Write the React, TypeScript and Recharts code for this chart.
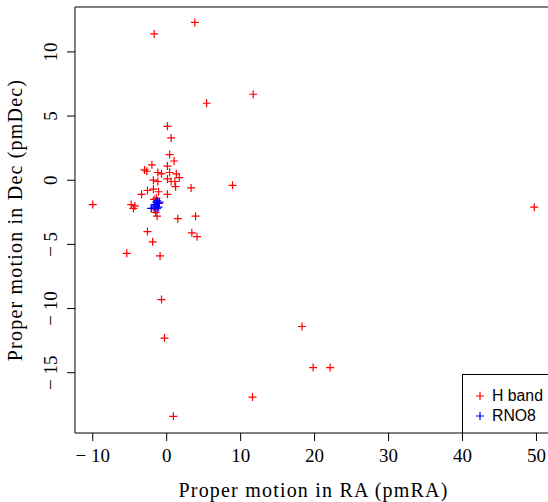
import React from "react";
import {
  ScatterChart,
  Scatter,
  XAxis,
  YAxis,
  ReferenceArea,
  Legend,
} from "recharts";

// H band proper motions (pmRA, pmDec)
const hBandX = [
  -1.7, 3.8, 11.7, 5.4, 0.1, 0.6, 0.4, 1.0, -2.0, 0.1, -3.0, -2.7, -1.2, -0.7,
  0.4, 1.3, 0.1, 1.7, -1.8, -1.2, 0.6, 1.1, 1.2, 3.3, 8.9, -1.8, -2.6, -1.1,
  -3.4, 0.1, -1.4, -1.7, -10.0, -4.8, -4.3, -4.5, -1.5, -1.3, -1.6, -1.0, 1.5,
  3.9, -2.6, 3.4, 4.1, -1.9, -5.4, -0.9, -0.7, -0.3, 18.3, 19.8, 22.1, 11.6,
  0.9, 49.7,
];
const hBandY = [
  11.4, 12.3, 6.7, 6.0, 4.2, 3.3, 2.0, 1.5, 1.2, 1.1, 0.8, 0.7, 0.6, 0.5, 0.6,
  0.5, 0.1, 0.2, 0.0, -0.1, -0.1, -0.1, -0.5, -0.6, -0.4, -0.7, -0.8, -0.9,
  -1.1, -1.1, -1.4, -1.5, -1.9, -1.9, -2.0, -2.2, -2.5, -2.8, -2.3, -1.8, -3.0,
  -2.8, -4.0, -4.1, -4.4, -4.8, -5.7, -5.9, -9.3, -12.3, -11.4, -14.6, -14.6,
  -16.9, -18.4, -2.1,
];

// RNO8 proper motions
const rnoX = [-1.4, -1.2, -1.5, -1.3, -1.1, -1.6, -1.3, -1.0, -2.1, -1.7];
const rnoY = [-1.7, -1.8, -2.0, -1.6, -2.1, -1.9, -2.2, -1.7, -2.2, -2.1];

const xTicks = [-10, 0, 10, 20, 30, 40, 50];
const yTicks = [-15, -10, -5, 0, 5, 10];
const xDomain = [-12.4, 52.1];
const yDomain = [-19.7, 13.5];

const seriesNames = ["H band", "RNO8"];
const seriesColors = ["#ff0000", "#0000ff"];

const hBand = hBandX.map((x, i) => ({ x, y: hBandY[i] }));
const rno8 = rnoX.map((x, i) => ({ x, y: rnoY[i] }));

const SERIF = "'Liberation Serif', 'Times New Roman', serif";
const SANS = "'Liberation Sans', Arial, sans-serif";

const fmt = (v: number) => (v < 0 ? `\u2212 ${Math.abs(v)}` : `${v}`);

/** R-style "+" marker (pch = 3) */
const plus = (color: string) => (props: any) => {
  const { cx, cy } = props;
  if (cx == null || cy == null) return <g />;
  return (
    <path
      d={`M${cx - 4},${cy}H${cx + 4}M${cx},${cy - 4}V${cy + 4}`}
      stroke={color}
      strokeWidth={1.2}
      fill="none"
    />
  );
};

/** y tick labels are drawn parallel to the axis */
function YTick({ x, y, payload }: any) {
  const bx = x - 8;
  return (
    <text
      x={bx}
      y={y}
      transform={`rotate(-90, ${bx}, ${y})`}
      textAnchor="middle"
      fontFamily={SERIF}
      fontSize={19}
      fill="#000"
    >
      {fmt(payload.value)}
    </text>
  );
}

function LegendBox() {
  return (
    <div
      style={{
        borderTop: "1px solid #000",
        borderLeft: "1px solid #000",
        width: 100,
        height: 59,
        boxSizing: "border-box",
        fontFamily: SANS,
        fontSize: 15.8,
        color: "#000",
        position: "relative",
      }}
    >
      {seriesNames.map((n, i) => (
        <div
          key={n}
          style={{
            position: "absolute",
            left: 11,
            top: 13 + i * 20,
            height: 16,
            display: "flex",
            alignItems: "center",
            lineHeight: "16px",
          }}
        >
          <svg width={12} height={12} style={{ marginRight: 6 }}>
            <path d="M2,6H10M6,2V10" stroke={seriesColors[i]} strokeWidth={1.2} />
          </svg>
          <span>{n}</span>
        </div>
      ))}
    </div>
  );
}

export default function App() {
  return (
    <div
      style={{
        position: "fixed",
        left: 0,
        top: 0,
        width: 548,
        height: 502,
        overflow: "hidden",
        background: "#fff",
      }}
    >
      <ScatterChart
        width={560}
        height={502}
        margin={{ top: 7, right: 8, left: 20, bottom: 19 }}
      >
        <XAxis
          type="number"
          dataKey="x"
          domain={xDomain}
          ticks={xTicks}
          allowDataOverflow
          axisLine={false}
          tickLine={{ stroke: "#000" }}
          tickSize={8}
          tickMargin={8}
          height={50}
          tickFormatter={fmt}
          tick={{ fill: "#000", fontFamily: SERIF, fontSize: 19 }}
          label={{
            content: ({ viewBox }: any) => (
              <text
                x={viewBox.x + viewBox.width / 2}
                y={497}
                textAnchor="middle"
                fontFamily={SERIF}
                fontSize={20}
                letterSpacing={1.2}
                fill="#000"
              >
                Proper motion in RA (pmRA)
              </text>
            ),
          }}
        />
        <YAxis
          type="number"
          dataKey="y"
          domain={yDomain}
          ticks={yTicks}
          allowDataOverflow
          axisLine={false}
          tickLine={{ stroke: "#000" }}
          tickSize={8}
          tickMargin={2}
          width={55}
          tick={<YTick />}
          label={{
            content: ({ viewBox }: any) => {
              const cy = viewBox.y + viewBox.height / 2;
              return (
                <text
                  x={22}
                  y={cy}
                  transform={`rotate(-90, 22, ${cy})`}
                  textAnchor="middle"
                  fontFamily={SERIF}
                  fontSize={20}
                  letterSpacing={1.2}
                  fill="#000"
                >
                  Proper motion in Dec (pmDec)
                </text>
              );
            },
          }}
        />
        <ReferenceArea
          x1={xDomain[0]}
          x2={xDomain[1]}
          y1={yDomain[0]}
          y2={yDomain[1]}
          fill="none"
          fillOpacity={0}
          stroke="#000"
          strokeWidth={1}
        />
        <Scatter
          name={seriesNames[0]}
          data={hBand}
          shape={plus(seriesColors[0])}
          isAnimationActive={false}
        />
        <Scatter
          name={seriesNames[1]}
          data={rno8}
          shape={plus(seriesColors[1])}
          isAnimationActive={false}
        />
        <Legend
          layout="horizontal"
          verticalAlign="middle"
          align="center"
          content={<LegendBox />}
          wrapperStyle={{ left: 462, top: 374, width: 100, height: 59 }}
        />
      </ScatterChart>
    </div>
  );
}
